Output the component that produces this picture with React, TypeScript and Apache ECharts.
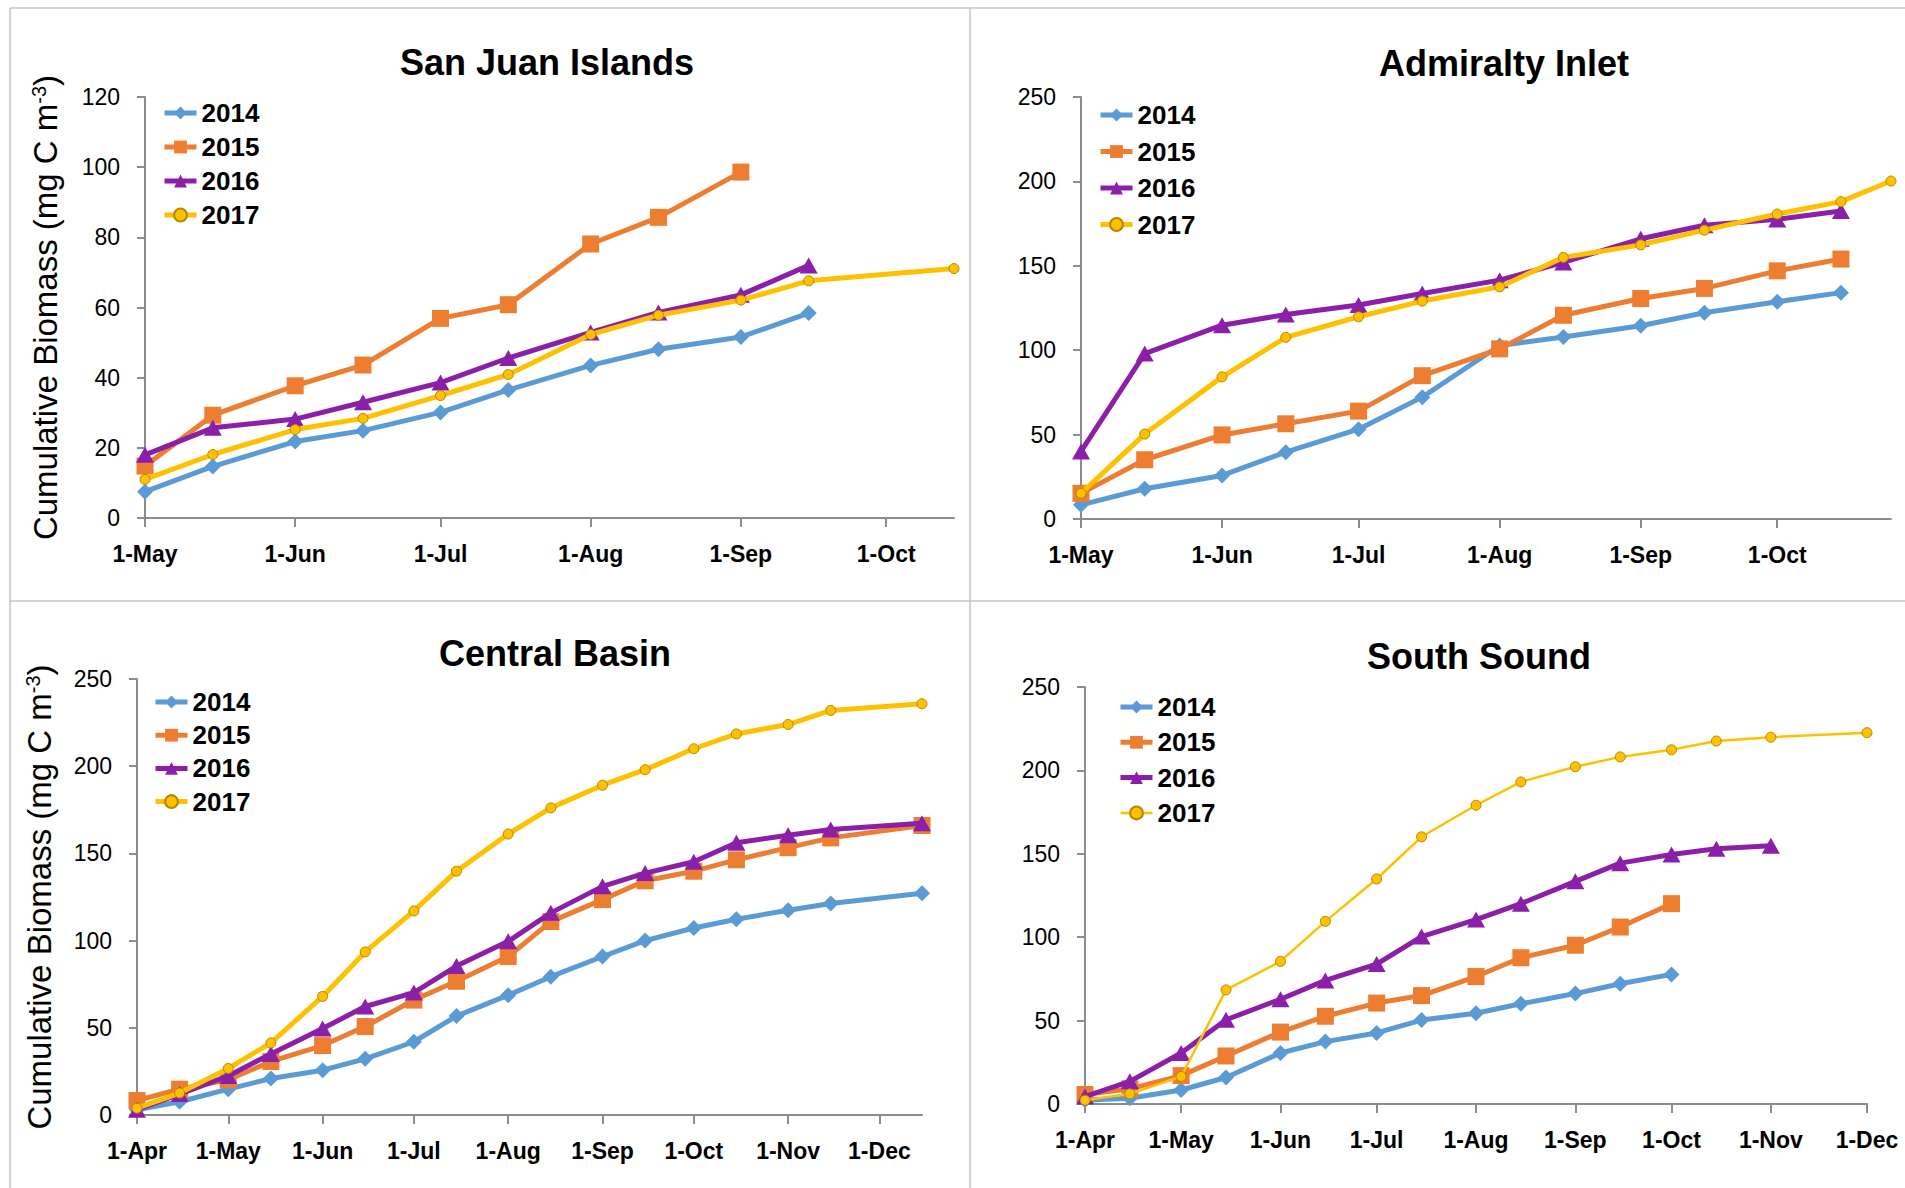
import React, { useEffect, useRef } from "react";
import * as echarts from "echarts";

// ---------- data ----------
const MONTHS = ["Jan", "Feb", "Mar", "Apr", "May", "Jun", "Jul", "Aug", "Sep", "Oct", "Nov", "Dec"];
const CUM_DAYS = [0, 31, 59, 90, 120, 151, 181, 212, 243, 273, 304, 334];
const YEARS = ["2014", "2015", "2016", "2017"];

// San Juan Islands
const sjDates = ["05-01", "05-15", "06-01", "06-15", "07-01", "07-15", "08-01", "08-15", "09-01", "09-15", "10-15"];
const sj2014 = [7.5, 14.7, 21.8, 24.9, 30.1, 36.5, 43.5, 48.1, 51.6, 58.4];
const sj2015 = [14.8, 29.3, 37.7, 43.6, 56.9, 60.8, 78.1, 85.7, 98.6];
const sj2016 = [18.0, 25.7, 28.2, 33.0, 38.6, 45.6, 52.9, 58.6, 63.6, 72.0];
const sj2017 = [11.0, 18.1, 25.2, 28.4, 34.9, 40.9, 52.3, 57.8, 62.1, 67.6, 71.1];

// Admiralty Inlet
const aiDates = ["05-01", "05-15", "06-01", "06-15", "07-01", "07-15", "08-01", "08-15", "09-01", "09-15", "10-01", "10-15", "10-26"];
const ai2014 = [8.4, 17.9, 25.8, 39.6, 53.2, 72.2, 102.8, 107.8, 114.5, 122.2, 128.7, 134.1];
const ai2015 = [15.2, 35.1, 49.8, 56.4, 63.9, 84.9, 100.8, 120.7, 130.6, 136.6, 147.0, 154.0];
const ai2016 = [40.0, 98.0, 114.8, 121.1, 126.8, 133.6, 141.5, 152.0, 166.0, 174.0, 177.5, 182.5];
const ai2017 = [15.2, 50.3, 84.2, 107.6, 119.8, 129.1, 137.5, 155.0, 162.4, 171.1, 180.7, 188.0, 200.2];

// Central Basin
const cbDates = ["04-01", "04-15", "05-01", "05-15", "06-01", "06-15", "07-01", "07-15", "08-01", "08-15", "09-01", "09-15", "10-01", "10-15", "11-01", "11-15", "12-15"];
const cb2014 = [3.0, 7.6, 14.8, 20.9, 25.7, 32.2, 42.0, 56.7, 68.7, 79.3, 90.9, 100.0, 107.2, 112.2, 117.4, 121.3, 127.2];
const cb2015 = [8.3, 14.8, 20.2, 30.7, 39.8, 50.7, 65.9, 76.7, 90.9, 110.9, 123.5, 134.3, 139.8, 146.3, 153.3, 158.9, 166.0];
const cb2016 = [3.0, 12.0, 22.4, 35.0, 49.6, 62.2, 70.2, 85.4, 99.6, 115.9, 131.1, 138.7, 145.2, 156.1, 160.4, 163.7, 167.3];
const cb2017 = [3.9, 12.6, 26.7, 41.3, 68.0, 93.5, 117.0, 139.8, 161.1, 176.1, 189.1, 198.0, 210.0, 218.5, 223.9, 232.0, 235.8];

// South Sound
const ssDates = ["04-01", "04-15", "05-01", "05-15", "06-01", "06-15", "07-01", "07-15", "08-01", "08-15", "09-01", "09-15", "10-01", "10-15", "11-01", "12-01"];
const ss2014 = [2.3, 3.4, 8.4, 15.9, 30.6, 37.4, 42.6, 50.3, 54.4, 60.1, 66.2, 72.1, 77.7];
const ss2015 = [5.7, 9.1, 17.0, 28.8, 43.1, 52.6, 60.5, 65.0, 76.4, 87.7, 95.2, 106.1, 120.1];
const ss2016 = [4.5, 13.6, 30.6, 50.5, 62.8, 74.1, 83.9, 100.4, 110.6, 120.1, 133.5, 144.4, 149.6, 153.0, 154.8];
const ss2017 = [2.3, 6.1, 16.5, 68.4, 85.5, 109.5, 134.9, 160.2, 179.1, 193.1, 202.2, 208.1, 212.4, 217.6, 219.9, 222.6];

// ---------- helpers ----------
const FONT = "'Liberation Sans', Arial, Helvetica, sans-serif";
const COLORS = ["#5B9BD5", "#ED7D31", "#8B1FA9", "#FFC000"];
const SYMBOLS = ["diamond", "rect", "triangle", "circle"];
const SYMBOL_SIZES: any[] = [16, 17, [18, 16], 10];
const AXIS_GRAY = "#8c8c8c";
const BORDER_GRAY = "#c4c4c4";
const LINE_W = 5;

function doy(md: string): number {
  const [m, d] = md.split("-").map(Number);
  return CUM_DAYS[m - 1] + d;
}

function monthStarts(start: string, end: string): number[] {
  const a = doy(start);
  const b = doy(end);
  return CUM_DAYS.map((c) => c + 1).filter((v) => v >= a && v <= b);
}

function monthLabel(v: number): string {
  const idx = CUM_DAYS.indexOf(Math.round(v) - 1);
  return idx >= 0 ? "1-" + MONTHS[idx] : "";
}

const panels = [
  {
    title: "San Juan Islands", tx: 547, ty: 62,
    dates: sjDates, values: [sj2014, sj2015, sj2016, sj2017],
    start: "05-01", end: "10-15", yMax: 120, yInt: 20,
    grid: { left: 145, top: 97, width: 809, height: 421 },
    legend: { left: 162, top: 100, gap: 8 },
    yName: true, nameGap: 83, thinLast: false,
  },
  {
    title: "Admiralty Inlet", tx: 1504, ty: 63,
    dates: aiDates, values: [ai2014, ai2015, ai2016, ai2017],
    start: "05-01", end: "10-26", yMax: 250, yInt: 50,
    grid: { left: 1081, top: 97, width: 810, height: 422 },
    legend: { left: 1098, top: 102, gap: 10.5 },
    yName: false, nameGap: 0, thinLast: false,
  },
  {
    title: "Central Basin", tx: 555, ty: 653,
    dates: cbDates, values: [cb2014, cb2015, cb2016, cb2017],
    start: "04-01", end: "12-15", yMax: 250, yInt: 50,
    grid: { left: 137, top: 679, width: 785, height: 436 },
    legend: { left: 153, top: 689, gap: 7.2 },
    yName: true, nameGap: 81, thinLast: false,
  },
  {
    title: "South Sound", tx: 1479, ty: 656,
    dates: ssDates, values: [ss2014, ss2015, ss2016, ss2017],
    start: "04-01", end: "12-01", yMax: 250, yInt: 50,
    grid: { left: 1085, top: 687, width: 782, height: 417 },
    legend: { left: 1118, top: 694, gap: 9.3 },
    yName: false, nameGap: 0, thinLast: true,
  },
];

function buildOption() {
  const grids: any[] = [];
  const xAxes: any[] = [];
  const yAxes: any[] = [];
  const series: any[] = [];
  const legends: any[] = [];
  const graphics: any[] = [];

  panels.forEach((p, gi) => {
    grids.push({ ...p.grid, containLabel: false });
    const ticks = monthStarts(p.start, p.end);
    xAxes.push({
      type: "value",
      gridIndex: gi,
      min: doy(p.start),
      max: doy(p.end),
      axisLine: { show: true, onZero: false, lineStyle: { color: AXIS_GRAY, width: 2 } },
      axisTick: { show: true, inside: false, length: 9, customValues: ticks, lineStyle: { color: AXIS_GRAY, width: 2 } },
      axisLabel: {
        show: true,
        customValues: ticks,
        formatter: (v: number) => monthLabel(v),
        margin: 24,
        color: "#000",
        fontFamily: FONT,
        fontSize: 23,
        fontWeight: "bold",
      },
      splitLine: { show: false },
    });
    yAxes.push({
      type: "value",
      gridIndex: gi,
      min: 0,
      max: p.yMax,
      interval: p.yInt,
      axisLine: { show: true, lineStyle: { color: AXIS_GRAY, width: 2 } },
      axisTick: { show: true, inside: false, length: 8, lineStyle: { color: AXIS_GRAY, width: 2 } },
      axisLabel: { margin: 25, color: "#000", fontFamily: FONT, fontSize: 23 },
      splitLine: { show: false },
      name: p.yName ? "Cumulative Biomass (mg C m{sup|-3})" : "",
      nameLocation: "middle",
      nameRotate: 90,
      nameGap: p.nameGap,
      nameTextStyle: {
        color: "#000",
        fontFamily: FONT,
        fontSize: 33,
        rich: { sup: { color: "#000", fontFamily: FONT, fontSize: 20, verticalAlign: "top" } },
      },
    });

    YEARS.forEach((yr, si) => {
      const vals = p.values[si];
      const thin = p.thinLast && si === 3;
      series.push({
        type: "line",
        name: yr,
        xAxisIndex: gi,
        yAxisIndex: gi,
        data: vals.map((v, i) => [doy(p.dates[i]), v]),
        symbol: SYMBOLS[si],
        symbolSize: SYMBOL_SIZES[si],
        showAllSymbol: true,
        lineStyle: { color: COLORS[si], width: thin ? 2.5 : LINE_W },
        itemStyle:
          si === 3
            ? { color: COLORS[si], borderColor: "#B58800", borderWidth: 1 }
            : { color: COLORS[si], borderWidth: 0 },
        emphasis: { disabled: true },
        z: 2 + si,
      });
    });

    legends.push({
      orient: "vertical",
      left: p.legend.left,
      top: p.legend.top,
      padding: 0,
      itemGap: p.legend.gap,
      itemWidth: 32,
      itemHeight: 16,
      selectedMode: false,
      lineStyle: { width: LINE_W },
      textStyle: { color: "#000", fontFamily: FONT, fontSize: 26, fontWeight: "bold", lineHeight: 26 },
      data: YEARS.map((yr, si) =>
        p.thinLast && si === 3 ? { name: yr, lineStyle: { width: 2.5 } } : { name: yr }
      ),
    });

    graphics.push({
      type: "text",
      x: p.tx,
      y: p.ty,
      style: {
        text: p.title,
        fill: "#000",
        font: `bold 36px ${FONT}`,
        align: "center",
        verticalAlign: "middle",
        textAlign: "center",
        textVerticalAlign: "middle",
      },
    });
  });

  // panel border lines
  const lines = [
    [10, 8, 1905, 8],
    [10, 601, 1905, 601],
    [10, 8, 10, 1188],
    [970, 8, 970, 1188],
  ];
  lines.forEach(([x1, y1, x2, y2]) => {
    graphics.push({
      type: "line",
      shape: { x1, y1, x2, y2 },
      style: { stroke: BORDER_GRAY, lineWidth: 1.5 },
      silent: true,
    });
  });

  return {
    animation: false,
    backgroundColor: "#ffffff",
    textStyle: { fontFamily: FONT },
    grid: grids,
    xAxis: xAxes,
    yAxis: yAxes,
    legend: legends,
    series,
    graphic: graphics,
  };
}

export default function App() {
  const ref = useRef<HTMLDivElement>(null);
  useEffect(() => {
    if (!ref.current) return;
    const chart = echarts.init(ref.current, undefined, { renderer: "svg" });
    chart.setOption(buildOption() as any);
    return () => chart.dispose();
  }, []);
  return (
    <div
      ref={ref}
      style={{ position: "absolute", left: 0, top: 0, width: 1905, height: 1188, background: "#fff" }}
    />
  );
}
